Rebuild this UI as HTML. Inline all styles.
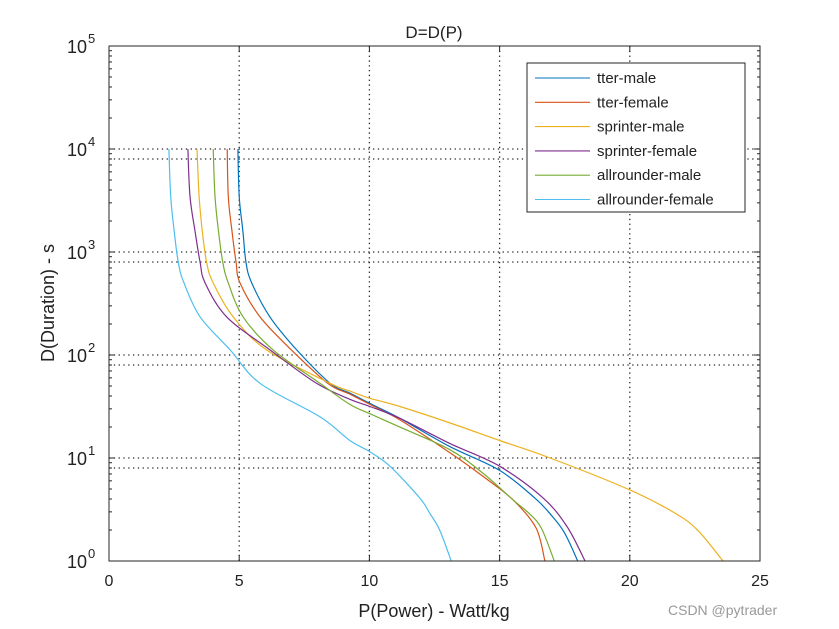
<!DOCTYPE html>
<html><head><meta charset="utf-8"><style>
body{margin:0;background:#fff;}
svg{display:block;font-family:"Liberation Sans",Arial,sans-serif;}
</style></head><body>
<svg id="chart" width="839" height="629" viewBox="0 0 839 629">
<rect x="0" y="0" width="839" height="629" fill="#fff"/>
<g id="grid"></g><g id="series"></g><g id="axes"></g>
<text x="434" y="38" text-anchor="middle" font-size="17" fill="#222">D=D(P)</text>
<text x="434" y="617" text-anchor="middle" font-size="18" fill="#222">P(Power) - Watt/kg</text>
<text transform="translate(54,303) rotate(-90)" text-anchor="middle" font-size="18" fill="#222">D(Duration) - s</text>
<text x="668" y="615" font-size="14" fill="#999">CSDN @pytrader</text>
<g id="legend"></g>
</svg>
<script>
const xTicks=[0,5,10,15,20,25];
const yExps=[0,1,2,3,4,5];
const names=["tter-male","tter-female","sprinter-male","sprinter-female","allrounder-male","allrounder-female"];
const colors=["#0072BD","#D95319","#EDB120","#7E2F8E","#77AC30","#4DBEEE"];
const P0=[4.95,5.0,5.14,5.26,5.48,6.18,7.21,8.49,9.25,10.02,11.17,13.1,15.0,16.36,17,17.5,18.0];
const L0=[4,3.54,3.21,2.9,2.7,2.37,2.05,1.725,1.63,1.53,1.385,1.11,0.88,0.61,0.44,0.27,0];
const P1=[4.54,4.58,4.72,4.88,5.03,5.8,7.0,8.4,9.25,10.02,11.17,13.1,14.37,15.53,16.4,16.74];
const L1=[4,3.54,3.21,2.9,2.7,2.37,2.05,1.725,1.62,1.52,1.37,1.05,0.82,0.59,0.32,0];
const P2=[3.38,3.46,3.58,3.75,4.0,4.77,6.05,8.49,9.25,10.02,11.17,13.1,15.0,16.94,20,21.7,22.6,23.58];
const L2=[4,3.54,3.21,2.9,2.7,2.37,2.05,1.725,1.65,1.58,1.5,1.34,1.17,1.0,0.69,0.47,0.3,0];
const P3=[3.03,3.11,3.3,3.5,3.69,4.52,6.18,7.97,9.25,10.02,11.17,13.1,15.0,16.68,17.6,18.28];
const L3=[4,3.54,3.21,2.9,2.7,2.37,2.05,1.725,1.57,1.5,1.385,1.14,0.92,0.61,0.33,0];
const P4=[4.0,4.07,4.2,4.37,4.58,5.15,6.3,8.1,9.25,10.02,11.17,13.1,14.37,15.53,16.1,16.6,17.1];
const L4=[4,3.54,3.21,2.9,2.7,2.37,2.05,1.725,1.52,1.43,1.3,1.08,0.85,0.59,0.47,0.32,0];
const P5=[2.3,2.37,2.5,2.66,2.88,3.5,4.65,5.8,8.1,9.25,10.02,10.79,11.94,12.3,12.7,13.14];
const L5=[4,3.54,3.21,2.9,2.7,2.37,2.05,1.725,1.4,1.17,1.06,0.92,0.61,0.47,0.3,0];
const PS=[P0,P1,P2,P3,P4,P5], LS=[L0,L1,L2,L3,L4,L5];

const X0=109,X1=760,Y0=561,Y1=46;
const sx=p=>X0+(p-0)/(25-0)*(X1-X0);
const sy=l=>Y0-(l-0)/(5-0)*(Y0-Y1);
const NS="http://www.w3.org/2000/svg";
function mk(tag,attrs,parent){const e=document.createElementNS(NS,tag);for(const k in attrs)e.setAttribute(k,attrs[k]);parent.appendChild(e);return e;}
const grid=document.getElementById('grid'),axes=document.getElementById('axes'),ser=document.getElementById('series'),leg=document.getElementById('legend');
xTicks.slice(1,-1).forEach(t=>{const l=mk('line',{x1:sx(t),x2:sx(t),y1:Y1,y2:Y0,stroke:'#262626','stroke-width':1.3,'stroke-dasharray':'1.3,3.5'},grid);

});
yExps.slice(1,-1).forEach(k=>{[k,k+Math.log10(0.8)].forEach(v=>{const l=mk('line',{x1:X0,x2:X1,y1:sy(v),y2:sy(v),stroke:'#262626','stroke-width':1.3,'stroke-dasharray':'1.3,3.5'},grid);

});});
PS.forEach((P,i)=>{const L=LS[i];
const pts=P.map((p,j)=>[sx(p),sy(L[j])]);
let d='M'+pts[0][0].toFixed(1)+','+pts[0][1].toFixed(1);
for(let j=0;j<pts.length-1;j++){const p0=pts[Math.max(0,j-1)],p1=pts[j],p2=pts[j+1],p3=pts[Math.min(pts.length-1,j+2)];
const c1=[p1[0]+(p2[0]-p0[0])/6,p1[1]+(p2[1]-p0[1])/6],c2=[p2[0]-(p3[0]-p1[0])/6,p2[1]-(p3[1]-p1[1])/6];
d+='C'+c1[0].toFixed(1)+','+c1[1].toFixed(1)+' '+c2[0].toFixed(1)+','+c2[1].toFixed(1)+' '+p2[0].toFixed(1)+','+p2[1].toFixed(1);}
const pa=mk('path',{d:d,fill:'none',stroke:colors[i],'stroke-width':1.2},ser);

});
const bx=mk('rect',{x:X0,y:Y1,width:X1-X0,height:Y0-Y1,fill:'none',stroke:'#262626','stroke-width':1},axes);


xTicks.forEach(t=>{mk('line',{x1:sx(t),x2:sx(t),y1:Y0,y2:Y0-6,stroke:'#262626'},axes);mk('line',{x1:sx(t),x2:sx(t),y1:Y1,y2:Y1+6,stroke:'#262626'},axes);
const tx=mk('text',{x:sx(t),y:Y0+25,'text-anchor':'middle','font-size':16,fill:'#222'},axes);tx.textContent=t;

});
yExps.forEach(k=>{mk('line',{x1:X0,x2:X0+6,y1:sy(k),y2:sy(k),stroke:'#262626'},axes);mk('line',{x1:X1,x2:X1-6,y1:sy(k),y2:sy(k),stroke:'#262626'},axes);
if(k<5)for(let m=2;m<10;m++){const v=k+Math.log10(m);mk('line',{x1:X0,x2:X0+3,y1:sy(v),y2:sy(v),stroke:'#262626'},axes);mk('line',{x1:X1,x2:X1-3,y1:sy(v),y2:sy(v),stroke:'#262626'},axes);}
const tx=mk('text',{x:X0-22,y:sy(k)+7,'text-anchor':'end','font-size':18,fill:'#222'},axes);tx.textContent='10';


const sp=mk('text',{x:X0-21,y:sy(k)-3,'font-size':13,fill:'#222'},axes);sp.textContent=k;});
const lb=mk('rect',{x:527,y:63,width:218,height:149,fill:'#fff',stroke:'#262626'},leg);


names.forEach((n,i)=>{const y=78+i*24.3;mk('line',{x1:535,x2:590,y1:y,y2:y,stroke:colors[i],'stroke-width':1.1},leg);
const t=mk('text',{x:597,y:y+5,'font-size':15,fill:'#222'},leg);t.textContent=n;

});
</script>
</body></html>
